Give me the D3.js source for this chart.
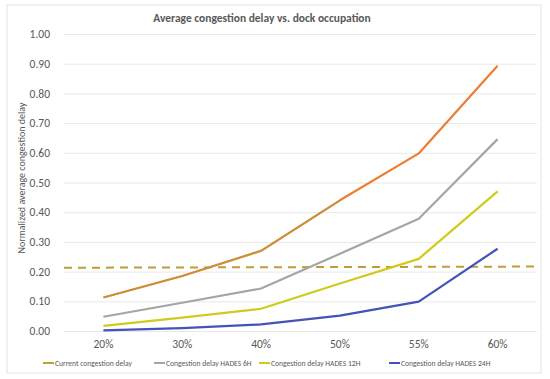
<!DOCTYPE html>
<html>
<head>
<meta charset="utf-8">
<script src="https://cdn.jsdelivr.net/npm/d3@7"></script>
<style>
  body { margin: 0; background: #fff; }
  text { font-family: Calibri, Carlito, "Liberation Sans", "Open Sans", sans-serif; }
</style>
</head>
<body>
<div id="chart"></div>
<script>
//All the data
var categories = ["20%", "30%", "40%", "50%", "55%", "60%"];
var current = [0.113, 0.185, 0.27, 0.44, 0.598, 0.893];
var hades6 = [0.048, 0.095, 0.143, 0.26, 0.378, 0.646];
var hades12 = [0.017, 0.045, 0.075, 0.16, 0.243, 0.47];
var hades24 = [0.002, 0.01, 0.022, 0.052, 0.099, 0.277];
var threshold = [0.213, 0.217];
var yTicks = [0, 0.1, 0.2, 0.3, 0.4, 0.5, 0.6, 0.7, 0.8, 0.9, 1.0];
var seriesNames = ["Current congestion delay", "Congestion delay HADES 6H",
                   "Congestion delay HADES 12H", "Congestion delay HADES 24H"];

var w = 550, h = 379;
var margin = { top: 34, right: 13, bottom: 48, left: 64 };
var width = w - margin.left - margin.right;
var height = h - margin.top - margin.bottom;

var svg = d3.select("#chart").append("svg")
    .attr("width", w)
    .attr("height", h);

// chart border
svg.append("rect")
  .attr("x", 7).attr("y", 5)
  .attr("width", 534).attr("height", 368)
  .attr("fill", "none")
  .attr("stroke", "#e4e4e4");

// title
svg.append("text")
  .attr("x", 262).attr("y", 22)
  .attr("text-anchor", "middle")
  .attr("font-size", 11.5)
  .attr("font-weight", "bold")
  .attr("fill", "#595959")
  .text("Average congestion delay vs. dock occupation");

var g = svg.append("g")
  .attr("transform", "translate(" + margin.left + "," + margin.top + ")");

// Scales
var x = d3.scaleBand().domain(categories).range([0, width]);
var y = d3.scaleLinear().domain([0, 1]).range([height, 0]);

// grid + y axis
var yAxis = g.append("g")
  .call(d3.axisLeft(y).tickValues(yTicks).tickSize(-width).tickPadding(14)
    .tickFormat(d3.format(".2f")));
yAxis.select(".domain").remove();
yAxis.selectAll("line").attr("stroke", "#e8e8e8");
yAxis.selectAll("text").attr("fill", "#595959").attr("font-size", 11.5)
  .style("font-family", "Calibri, Carlito, 'Liberation Sans', sans-serif");

// x axis
var xAxis = g.append("g")
  .attr("transform", "translate(0," + height + ")")
  .call(d3.axisBottom(x).tickSize(0).tickPadding(9));
xAxis.select(".domain").remove();
xAxis.selectAll("text").attr("fill", "#595959").attr("font-size", 11.5)
  .style("font-family", "Calibri, Carlito, 'Liberation Sans', sans-serif");

// y axis title
svg.append("text")
  .attr("transform", "translate(25,178)rotate(-90)")
  .attr("text-anchor", "middle")
  .attr("font-size", 10)
  .attr("fill", "#595959")
  .text("Normalized average congestion delay");

var line = d3.line()
  .x(function(d, i) { return x(categories[i]) + x.bandwidth() / 2; })
  .y(function(d) { return y(d); });

// threshold dashed line
var tx = d3.scaleLinear().domain([0, 1]).range([0, width]);
g.append("line")
  .attr("x1", tx(0)).attr("x2", tx(1))
  .attr("y1", y(threshold[0])).attr("y2", y(threshold[1]))
  .attr("stroke", "#bf9c38")
  .attr("stroke-width", 2)
  .attr("stroke-dasharray", "8,6");

//Lines
var series = [
  { v: current, c: "#ed7d31" },
  { v: hades6, c: "#a5a5a5" },
  { v: hades12, c: "#cfcb1c" },
  { v: hades24, c: "#4453b8" }
];
series.forEach(function(s) {
  g.append("path")
    .datum(s.v)
    .attr("d", line)
    .attr("fill", "none")
    .attr("stroke", s.c)
    .attr("stroke-width", 2.2)
    .attr("stroke-linejoin", "round");
});

// olive overlay on the lower part of the current line
g.append("path")
  .datum(current.slice(0, 4))
  .attr("d", line)
  .attr("fill", "none")
  .attr("stroke", "#b99a3c")
  .attr("stroke-width", 1.6)
  .attr("opacity", 0.85);

// Legend
var legendColors = ["#b8a434", "#a5a5a5", "#cfcb1c", "#4453b8"];
var legendX = [43, 154, 259, 389];
var legend = svg.selectAll(".leg")
  .data(seriesNames)
  .enter().append("g")
  .attr("transform", function(d, i) { return "translate(" + legendX[i] + ",363)"; });
legend.append("line")
  .attr("x1", 0).attr("x2", 11)
  .attr("y1", 0).attr("y2", 0)
  .attr("stroke", function(d, i) { return legendColors[i]; })
  .attr("stroke-width", 2);
legend.append("text")
  .attr("x", 12).attr("y", 2.7)
  .attr("font-size", 7.6)
  .attr("fill", "#595959")
  .text(function(d) { return d; });
</script>
</body>
</html>
